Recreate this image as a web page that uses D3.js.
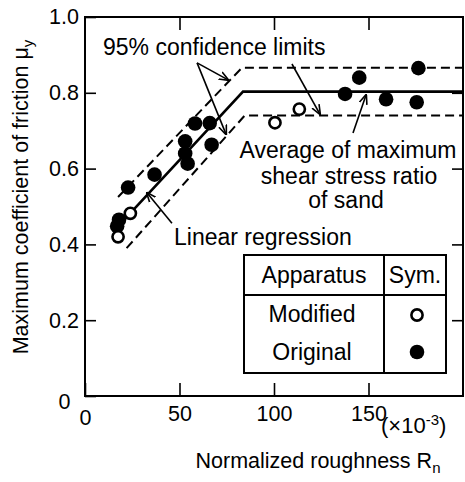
<!DOCTYPE html>
<html>
<head>
<meta charset="utf-8">
<script src="https://cdn.jsdelivr.net/npm/d3@7"></script>
<style>
  body { margin: 0; background: #fff; }
  text { font-family: "Liberation Sans", Arial, sans-serif; fill: #000; }
</style>
</head>
<body>
<svg width="465" height="482"></svg>
<script>
// values (Rn in x10^-3, friction coefficient)
var modified = [[17.5, 0.42], [24, 0.482], [100.5, 0.721], [113.4, 0.757]];
var original = [[17, 0.448], [18, 0.465], [22.8, 0.55], [36.8, 0.584],
  [53, 0.672], [53, 0.64], [54.3, 0.613], [58.2, 0.719], [66, 0.72], [67, 0.663],
  [137.6, 0.797], [145.1, 0.84], [159.3, 0.783], [175.5, 0.775], [176.4, 0.865]];

// regression and confidence limits (bilinear)
var regression = [[17, 0.445], [83.6, 0.803], [200, 0.803]];
var upperLimit = [[17.5, 0.525], [83, 0.866], [200, 0.866]];
var lowerLimit = [[22, 0.39], [84.5, 0.74], [200, 0.74]];

var xTicks = [0, 50, 100, 150];
var yTicks = [0, 0.2, 0.4, 0.6, 0.8, 1.0];

var svg = d3.select("svg");

var x = d3.scaleLinear().domain([0, 200]).range([85, 463]);
var y = d3.scaleLinear().domain([0, 1]).range([396, 17]);

// arrowhead
svg.append("defs").append("marker")
  .attr("id", "arr")
  .attr("viewBox", "0 0 10 10")
  .attr("refX", 9).attr("refY", 5)
  .attr("markerWidth", 10).attr("markerHeight", 10)
  .attr("markerUnits", "userSpaceOnUse")
  .attr("orient", "auto")
  .append("path")
  .attr("d", "M0,1 L10,5 L0,9")
  .attr("fill", "none")
  .attr("stroke", "#000")
  .attr("stroke-width", 1.6);

// axes, ticks pointing inward
var gx = svg.append("g").attr("transform", "translate(0,396)")
  .call(d3.axisBottom(x).tickValues(xTicks).tickSize(-13).tickPadding(10).tickFormat(d3.format("d")));
svg.append("g").attr("transform", "translate(0,17)")
  .call(d3.axisTop(x).tickValues([50, 100, 150]).tickSize(-13).tickFormat(""));
var gy = svg.append("g").attr("transform", "translate(85,0)")
  .call(d3.axisLeft(y).tickValues(yTicks).tickSize(-11).tickPadding(6)
    .tickFormat(function(d) { return d === 0 ? "0" : d.toFixed(1); }));
svg.append("g").attr("transform", "translate(463,0)")
  .call(d3.axisRight(y).tickValues([0.2, 0.4, 0.6, 0.8]).tickSize(-11).tickFormat(""));

svg.selectAll(".domain").remove();
svg.selectAll(".tick line").attr("stroke", "#000").attr("stroke-width", 1.6);
svg.selectAll(".tick text").style("font-size", "21.5px").attr("fill", "#000");

// the two zeros sit off the corner
gx.selectAll(".tick").filter(function(d) { return d === 0; }).select("text").attr("dy", "0.9em");
gy.selectAll(".tick").filter(function(d) { return d === 0; }).select("text").attr("dx", "-0.4em").attr("dy", "0.6em");

// frame
svg.append("rect")
  .attr("x", x(0)).attr("y", y(1))
  .attr("width", x(200) - x(0)).attr("height", y(0) - y(1))
  .attr("fill", "none").attr("stroke", "#000").attr("stroke-width", 2);

var line = d3.line().x(function(d) { return x(d[0]); }).y(function(d) { return y(d[1]); });

svg.append("path").datum(regression).attr("d", line)
  .attr("fill", "none").attr("stroke", "#000").attr("stroke-width", 2.6);
svg.selectAll(".limit").data([upperLimit, lowerLimit]).enter().append("path")
  .attr("class", "limit").attr("d", line)
  .attr("fill", "none").attr("stroke", "#000").attr("stroke-width", 2)
  .attr("stroke-dasharray", "9,5");

// points
svg.append("g").selectAll("circle").data(original).enter().append("circle")
  .attr("cx", function(d) { return x(d[0]); })
  .attr("cy", function(d) { return y(d[1]); })
  .attr("r", 7.3).attr("fill", "#000");
svg.append("g").selectAll("circle").data(modified).enter().append("circle")
  .attr("cx", function(d) { return x(d[0]); })
  .attr("cy", function(d) { return y(d[1]); })
  .attr("r", 5.6).attr("fill", "#fff").attr("stroke", "#000").attr("stroke-width", 2.6);

// annotation arrows (data coords)
var arrows = [
  [[59.3, 0.879], [75.7, 0.834]],
  [[59.3, 0.879], [74.6, 0.691]],
  [[109.5, 0.876], [124.3, 0.744]],
  [[141.8, 0.694], [148.7, 0.794]],
  [[46, 0.456], [32.8, 0.536]]
];
svg.append("g").selectAll("line").data(arrows).enter().append("line")
  .attr("x1", function(d) { return x(d[0][0]); })
  .attr("y1", function(d) { return y(d[0][1]); })
  .attr("x2", function(d) { return x(d[1][0]); })
  .attr("y2", function(d) { return y(d[1][1]); })
  .attr("stroke", "#000").attr("stroke-width", 1.6)
  .attr("marker-end", "url(#arr)");

// annotation texts
function label(tx, ty, s, anchor) {
  return svg.append("text").attr("x", tx).attr("y", ty)
    .attr("text-anchor", anchor || "start")
    .style("font-size", "23px").text(s);
}
label(103, 55, "95% confidence limits");
label(348, 158, "Average of maximum", "middle");
label(349, 184, "shear stress ratio", "middle");
label(346, 208, "of sand", "middle");
label(174, 245, "Linear regression");

// legend table
var lg = svg.append("g");
lg.append("rect").attr("x", 244).attr("y", 255).attr("width", 202).attr("height", 118)
  .attr("fill", "#fff").attr("stroke", "#000").attr("stroke-width", 2);
lg.append("line").attr("x1", 244).attr("x2", 446).attr("y1", 295).attr("y2", 295)
  .attr("stroke", "#000").attr("stroke-width", 2);
lg.append("line").attr("x1", 384).attr("x2", 384).attr("y1", 255).attr("y2", 373)
  .attr("stroke", "#000").attr("stroke-width", 2);
var legendRows = ["Modified", "Original"];
lg.append("text").attr("x", 314).attr("y", 283).attr("text-anchor", "middle").style("font-size", "23px").text("Apparatus");
lg.append("text").attr("x", 415).attr("y", 283).attr("text-anchor", "middle").style("font-size", "23px").text("Sym.");
lg.selectAll(".row").data(legendRows).enter().append("text")
  .attr("x", 312).attr("y", function(d, i) { return 322 + i * 38; })
  .attr("text-anchor", "middle").style("font-size", "23px").text(function(d) { return d; });
lg.append("circle").attr("cx", 417).attr("cy", 315).attr("r", 5.6)
  .attr("fill", "#fff").attr("stroke", "#000").attr("stroke-width", 2.6);
lg.append("circle").attr("cx", 417).attr("cy", 352).attr("r", 7.3).attr("fill", "#000");

// axis titles
var xt = svg.append("text").attr("x", 318).attr("y", 468).attr("text-anchor", "middle").style("font-size", "21.5px");
xt.append("tspan").text("Normalized roughness R");
xt.append("tspan").attr("dy", 5).style("font-size", "15px").text("n");

var unit = svg.append("text").attr("x", 381).attr("y", 433).style("font-size", "22px");
unit.append("tspan").text("(×10");
unit.append("tspan").attr("dy", -8).style("font-size", "15px").text("-3");
unit.append("tspan").attr("dy", 8).text(")");

var yt = svg.append("text").attr("transform", "translate(28,197) rotate(-90)")
  .attr("text-anchor", "middle").style("font-size", "21.5px");
yt.append("tspan").text("Maximum coefficient of friction μ");
yt.append("tspan").attr("dy", 5).style("font-size", "15px").text("y");
</script>
</body>
</html>
